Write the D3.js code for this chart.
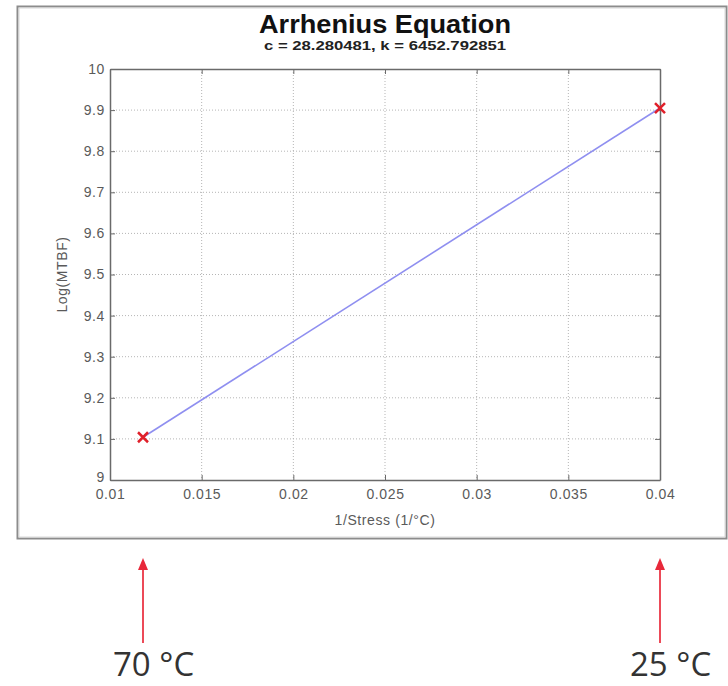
<!DOCTYPE html>
<html>
<head>
<meta charset="utf-8">
<script src="https://cdn.jsdelivr.net/npm/d3@7"></script>
<style>
  html, body { margin: 0; padding: 0; background: #fff; }
  svg { display: block; }
</style>
</head>
<body>
<svg id="chart" width="728" height="686"></svg>
<script>
// ---- data ----
const title = "Arrhenius Equation";
const subtitle = "c = 28.280481, k = 6452.792851";
const xLabel = "1/Stress (1/°C)";
const yLabel = "Log(MTBF)";
const xValues = [0.0118, 0.0400];
const yValues = [9.104, 9.905];
const xTicks = [0.01, 0.015, 0.02, 0.025, 0.03, 0.035, 0.04];
const xTickLabels = ["0.01", "0.015", "0.02", "0.025", "0.03", "0.035", "0.04"];
const yTicks = [9, 9.1, 9.2, 9.3, 9.4, 9.5, 9.6, 9.7, 9.8, 9.9, 10];
const yTickLabels = ["9", "9.1", "9.2", "9.3", "9.4", "9.5", "9.6", "9.7", "9.8", "9.9", "10"];
const tempLabels = ["70 °C", "25 °C"];

// ---- layout ----
const svg = d3.select("#chart");
const L = 110, R = 660, T = 69, B = 480;
const x = d3.scaleLinear().domain([0.01, 0.04]).range([L, R]);
const y = d3.scaleLinear().domain([9, 10]).range([B, T]);
const FONT = "Liberation Sans, Arial, sans-serif";

// outer frame
svg.append("rect").attr("x", 17.5).attr("y", 6.5).attr("width", 709).attr("height", 532)
  .attr("fill", "#fff").attr("stroke", "#8c8c8c").attr("stroke-width", 2);
svg.append("rect").attr("x", 19).attr("y", 8).attr("width", 706).attr("height", 529)
  .attr("fill", "none").attr("stroke", "#d8d8d8").attr("stroke-width", 1);

const g = svg.append("g");

// grid
g.append("g").selectAll("line").data(xTicks.slice(1, -1)).join("line")
  .attr("x1", d => x(d)).attr("x2", d => x(d)).attr("y1", T).attr("y2", B)
  .attr("stroke", "#b5b5b5").attr("stroke-width", 1).attr("stroke-dasharray", "1,2");
g.append("g").selectAll("line").data(yTicks.slice(1, -1)).join("line")
  .attr("y1", d => y(d)).attr("y2", d => y(d)).attr("x1", L).attr("x2", R)
  .attr("stroke", "#b5b5b5").attr("stroke-width", 1).attr("stroke-dasharray", "1,2");

// axes (MATLAB-like: ticks inward on all sides)
const tickLen = 5;
const axStyle = sel => {
  sel.selectAll("path.domain").attr("stroke", "#6a6a6a").attr("stroke-width", 1.5);
  sel.selectAll(".tick line").attr("stroke", "#6a6a6a").attr("stroke-width", 1);
  sel.selectAll(".tick text").attr("fill", "#5a5a5a").attr("font-family", FONT)
    .attr("font-size", 14).attr("letter-spacing", 0.6);
};
const xAxis = g.append("g").attr("transform", `translate(0,${B})`)
  .call(d3.axisBottom(x).tickValues(xTicks).tickFormat((d, i) => xTickLabels[i]).tickSizeInner(-tickLen).tickSizeOuter(0).tickPadding(9));
axStyle(xAxis);
const xAxisTop = g.append("g").attr("transform", `translate(0,${T})`)
  .call(d3.axisTop(x).tickValues(xTicks).tickFormat("").tickSizeInner(-tickLen).tickSizeOuter(0));
axStyle(xAxisTop);
const yAxis = g.append("g").attr("transform", `translate(${L},0)`)
  .call(d3.axisLeft(y).tickValues(yTicks).tickFormat((d, i) => yTickLabels[i]).tickSizeInner(-tickLen).tickSizeOuter(0).tickPadding(5));
axStyle(yAxis);
// lowest y label sits just above the x labels at the corner
yAxis.selectAll(".tick text").filter(d => d === 9).attr("dy", "0.1em");
const yAxisRight = g.append("g").attr("transform", `translate(${R},0)`)
  .call(d3.axisRight(y).tickValues(yTicks).tickFormat("").tickSizeInner(-tickLen).tickSizeOuter(0));
axStyle(yAxisRight);

// line
const pts = xValues.map((v, i) => [v, yValues[i]]);
g.append("path").datum(pts)
  .attr("d", d3.line().x(d => x(d[0])).y(d => y(d[1])))
  .attr("fill", "none").attr("stroke", "#8f8ff0").attr("stroke-width", 1.6);

// markers (x)
const ms = 5;
g.append("g").selectAll("path").data(pts).join("path")
  .attr("d", d => {
    const cx = x(d[0]), cy = y(d[1]);
    return `M${cx - ms},${cy - ms}L${cx + ms},${cy + ms}M${cx - ms},${cy + ms}L${cx + ms},${cy - ms}`;
  })
  .attr("stroke", "#e0202a").attr("stroke-width", 2.5).attr("fill", "none");

// titles
svg.append("text").attr("x", 385).attr("y", 33).attr("text-anchor", "middle")
  .attr("font-family", FONT).attr("font-weight", "bold")
  .attr("font-size", 25).attr("fill", "#111")
  .attr("textLength", 252).attr("lengthAdjust", "spacingAndGlyphs").text(title);
svg.append("text").attr("x", 385).attr("y", 50).attr("text-anchor", "middle")
  .attr("font-family", FONT).attr("font-weight", "bold")
  .attr("font-size", 12.5).attr("fill", "#222")
  .attr("textLength", 242).attr("lengthAdjust", "spacingAndGlyphs").text(subtitle);

// axis labels
svg.append("text").attr("x", 385).attr("y", 525).attr("text-anchor", "middle")
  .attr("font-family", FONT).attr("font-size", 14).attr("letter-spacing", 0.6)
  .attr("fill", "#5a5a5a").text(xLabel);
svg.append("text").attr("transform", `translate(67,${(T + B) / 2}) rotate(-90)`)
  .attr("text-anchor", "middle")
  .attr("font-family", FONT).attr("font-size", 14).attr("letter-spacing", 0.6)
  .attr("fill", "#5a5a5a").text(yLabel);

// arrows and temperature labels
const ag = svg.append("g");
ag.selectAll("line").data(xValues).join("line")
  .attr("x1", d => x(d)).attr("x2", d => x(d)).attr("y1", 643).attr("y2", 568)
  .attr("stroke", "#ec4a58").attr("stroke-width", 2);
ag.selectAll("path").data(xValues).join("path")
  .attr("d", d => `M${x(d) - 5},${570}L${x(d)},${558}L${x(d) + 5},${570}Z`)
  .attr("fill", "#e8283a");
ag.selectAll("text").data(xValues).join("text")
  .attr("x", d => x(d) - 30).attr("y", 676)
  .attr("font-family", "Open Sans, Noto Sans, sans-serif").attr("font-size", 33)
  .attr("fill", "#333").text((d, i) => tempLabels[i]);
</script>
</body>
</html>
